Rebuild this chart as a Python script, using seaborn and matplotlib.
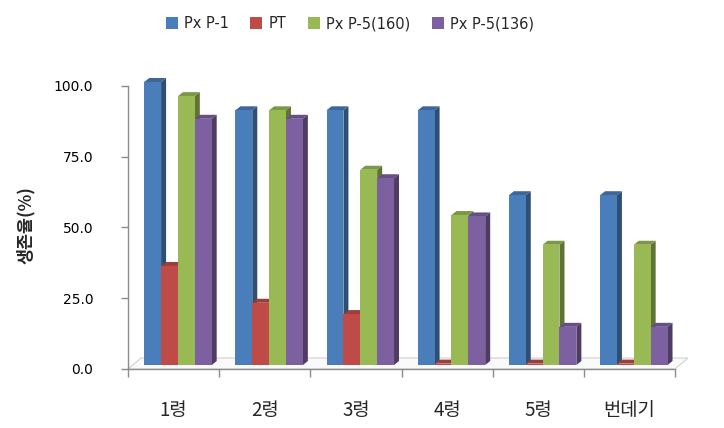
import numpy as np
import pandas as pd
import matplotlib
matplotlib.use("Agg")
import matplotlib.pyplot as plt
import seaborn as sns
from matplotlib.patches import Polygon, Patch
from matplotlib.ticker import FixedLocator, NullFormatter

# ---- data ----
categories = ["1령", "2령", "3령", "4령", "5령", "번데기"]
series = ["Px P-1", "PT", "Px P-5(160)", "Px P-5(136)"]
px_p1 = [100, 90, 90, 90, 60, 60]
pt = [35, 22, 18, 0.5, 0.5, 0.5]
px_p5_160 = [95, 90, 69, 53, 42.5, 42.5]
px_p5_136 = [87, 87, 66, 52.5, 13.5, 13.5]
ytick_values = [0, 25, 50, 75, 100]
colors = ["#4A7EBB", "#BE4B48", "#98B954", "#7D60A0"]

values = [px_p1, pt, px_p5_160, px_p5_136]
rows = []
for s, vals in zip(series, values):
    for c, v in zip(categories, vals):
        rows.append({"stage": c, "series": s, "value": v})
df = pd.DataFrame(rows)

# ---- style ----
sns.set_style("white")
plt.rcParams["font.family"] = ["DejaVu Sans", "Noto Sans CJK KR"]
KFONT = ["Noto Sans CJK KR", "DejaVu Sans"]

W, H = 724, 428
fig = plt.figure(figsize=(W / 100, H / 100), dpi=100)
ax_left, ax_right, ax_top, ax_bot = 128, 675, 82, 369
ax = fig.add_axes([ax_left / W, (H - ax_bot) / H, (ax_right - ax_left) / W, (ax_bot - ax_top) / H])

Y_OFF = -1.4     # 3D floor offset of value axis
X_OFF = 0.048    # 3D shift of bars relative to category slots

sns.barplot(data=df, x="stage", y="value", hue="series", order=categories,
            hue_order=series, palette=colors, width=0.74, saturation=1,
            edgecolor="none", linewidth=0, legend=False, ax=ax, errorbar=None)

ax.set_xlim(-0.5 - X_OFF, 5.5 - X_OFF)
ax.set_ylim(Y_OFF, 100)

fig.canvas.draw()
p0 = ax.transData.transform((0, 0))
p1 = ax.transData.transform((1, 1))
ux, uy = p1[0] - p0[0], p1[1] - p0[1]
dx, dy = 5 / ux, 4 / uy


def shade(c, f):
    return tuple(min(1, max(0, ch * f)) for ch in c[:3])


bars = [p for cont in ax.containers for p in cont]
bars.sort(key=lambda p: p.get_x())
for i, p in enumerate(bars):
    x0, w, h = p.get_x(), p.get_width(), p.get_height()
    x1 = x0 + w
    fc = p.get_facecolor()
    z = 3 + i * 0.01
    side = Polygon([(x1, 0), (x1 + dx, dy), (x1 + dx, h + dy), (x1, h)],
                   closed=True, facecolor=shade(fc, 0.62), edgecolor="none",
                   zorder=z, clip_on=False)
    top = Polygon([(x0, h), (x0 + dx, h + dy), (x1 + dx, h + dy), (x1, h)],
                  closed=True, facecolor=shade(fc, 0.82), edgecolor="none",
                  zorder=z + 0.002, clip_on=False)
    ax.add_patch(side)
    ax.add_patch(top)
    p.set_zorder(z + 0.005)

# floor
fx, fy = 13 / ux, 11 / uy
xl, xr = -0.5 - X_OFF, 5.5 - X_OFF
floor = Polygon([(xl, Y_OFF), (xr, Y_OFF), (xr + fx, Y_OFF + fy), (xl + fx, Y_OFF + fy)],
                closed=True, facecolor="#FAFAFA", edgecolor="#D0D0D0", linewidth=0.8,
                zorder=1, clip_on=False)
ax.add_patch(floor)

# axes styling
for s in ["top", "right"]:
    ax.spines[s].set_visible(False)
for s in ["left", "bottom"]:
    ax.spines[s].set_color("#8C8C8C")
    ax.spines[s].set_linewidth(1.0)
    ax.spines[s].set_zorder(2)
ax.spines["left"].set_bounds(Y_OFF, Y_OFF + 100)

ax.yaxis.set_major_locator(FixedLocator([Y_OFF + v for v in ytick_values]))
ax.set_yticklabels([f"{v:.1f}" for v in ytick_values])
ax.tick_params(axis="y", left=True, direction="out", length=5, width=1, color="#8C8C8C",
               labelsize=10, pad=20, labelcolor="#000000")

ax.xaxis.set_major_locator(FixedLocator([k - X_OFF for k in range(len(categories))]))
ax.set_xticklabels(categories, fontfamily=KFONT)
ax.xaxis.set_minor_locator(FixedLocator([k - 0.5 - X_OFF for k in range(len(categories) + 1)]))
ax.xaxis.set_minor_formatter(NullFormatter())
ax.tick_params(axis="x", which="major", bottom=True, length=0, labelsize=13.5, pad=22)
ax.tick_params(axis="x", which="minor", bottom=True, direction="out", length=6, width=1,
               color="#8C8C8C")

ax.set_xlabel("")
ax.set_ylabel("생존율(%)", fontsize=12.5, fontweight="bold", fontfamily=KFONT)
ax.yaxis.set_label_coords(-0.17, 0.5)

handles = [Patch(facecolor=c, edgecolor="none") for c in colors]
fig.legend(handles, series, loc="center", bbox_to_anchor=(0.483, 0.945), ncol=4,
           frameon=False, fontsize=10.5, handlelength=0.82, handleheight=0.82,
           handletextpad=0.4, columnspacing=1.5)

fig.savefig("out.png", dpi=100)
